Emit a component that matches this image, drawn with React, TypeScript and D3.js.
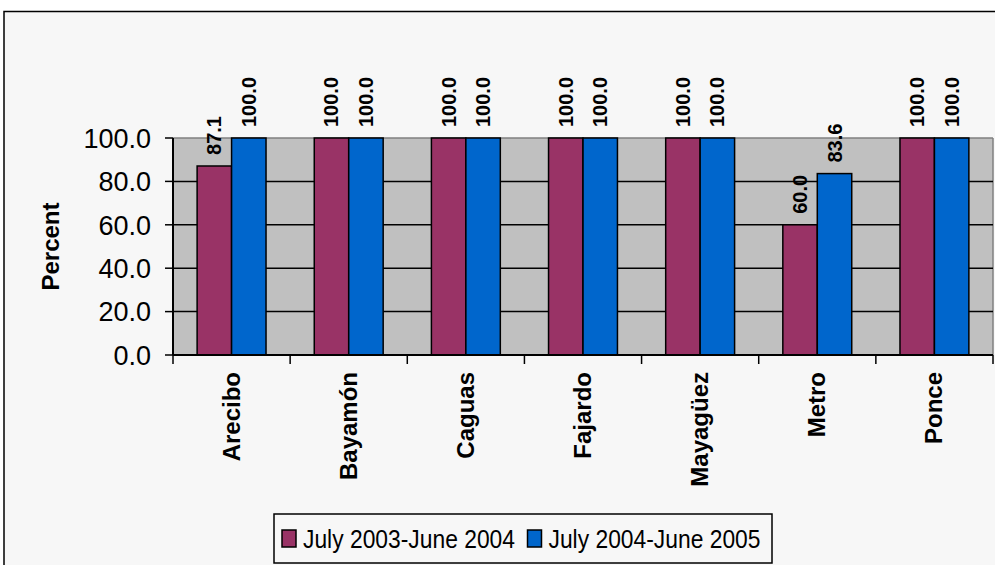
import React from "react";
import * as d3 from "d3";

const regions = ["Arecibo", "Bayamón", "Caguas", "Fajardo", "Mayagüez", "Metro", "Ponce"];
const seriesNames = ["July 2003-June 2004", "July 2004-June 2005"];
const values2003 = [87.1, 100.0, 100.0, 100.0, 100.0, 60.0, 100.0];
const values2004 = [100.0, 100.0, 100.0, 100.0, 100.0, 83.6, 100.0];
const yTicks = [0, 20, 40, 60, 80, 100];

const colors = ["#993366", "#0066cc"];
const font = "'Liberation Sans', Arial, sans-serif";

const W = 995;
const H = 565;
const plot = { left: 173, right: 993, top: 138, bottom: 355 };

export default function App() {
  const x0 = d3.scaleBand().domain(regions).range([plot.left, plot.right]).padding(0);
  const x1 = d3
    .scaleBand()
    .domain(seriesNames)
    .range([0, x0.bandwidth()])
    .paddingInner(0)
    .paddingOuter(0.7);
  const y = d3.scaleLinear().domain([0, 100]).range([plot.bottom, plot.top]);

  const rows = regions.map((r, i) => ({ region: r, vals: [values2003[i], values2004[i]] }));

  return (
    <svg
      width={W}
      height={H}
      style={{ position: "absolute", left: 0, top: 0, background: "#ffffff" }}
      fontFamily={font}
    >
      {/* chart area */}
      <rect x={4} y={11.5} width={W + 10} height={H + 10} fill="#f7f7f7" stroke="#000" strokeWidth={1.5} />

      {/* plot area */}
      <rect x={plot.left} y={plot.top} width={plot.right - plot.left} height={plot.bottom - plot.top} fill="#c0c0c0" />
      <line x1={plot.left} x2={plot.right} y1={plot.top} y2={plot.top} stroke="#808080" strokeWidth={1.5} />
      <line x1={plot.right} x2={plot.right} y1={plot.top} y2={plot.bottom} stroke="#808080" strokeWidth={1.5} />

      {/* gridlines */}
      {yTicks.slice(1, -1).map((t) => (
        <line key={t} x1={plot.left} x2={plot.right} y1={y(t)} y2={y(t)} stroke="#000" strokeWidth={1.5} />
      ))}

      {/* bars */}
      {rows.map((d) => (
        <g key={d.region} transform={`translate(${x0(d.region)},0)`}>
          {d.vals.map((v, j) => (
            <rect
              key={j}
              x={x1(seriesNames[j])}
              y={y(v)}
              width={x1.bandwidth()}
              height={y(0) - y(v)}
              fill={colors[j]}
              stroke="#000"
              strokeWidth={1.5}
            />
          ))}
          {d.vals.map((v, j) => {
            const cx = (x1(seriesNames[j]) as number) + x1.bandwidth() / 2;
            return (
              <text
                key={"l" + j}
                transform={`translate(${cx + 7},${y(v) - 11}) rotate(-90)`}
                fontSize={20}
                fontWeight="bold"
                fill="#000"
              >
                {v.toFixed(1)}
              </text>
            );
          })}
        </g>
      ))}

      {/* y axis */}
      <line x1={plot.left} x2={plot.left} y1={plot.top} y2={plot.bottom} stroke="#000" strokeWidth={2} />
      {yTicks.map((t) => (
        <g key={t}>
          <line x1={plot.left - 8} x2={plot.left} y1={y(t)} y2={y(t)} stroke="#000" strokeWidth={1.5} />
          <text x={151} y={y(t)} dy="0.36em" textAnchor="end" fontSize={27} fill="#000">
            {t.toFixed(1)}
          </text>
        </g>
      ))}
      <text
        transform={`translate(${59},${(plot.top + plot.bottom) / 2}) rotate(-90)`}
        textAnchor="middle"
        fontSize={24}
        fontWeight="bold"
        fill="#000"
      >
        Percent
      </text>

      {/* x axis */}
      <line x1={plot.left} x2={plot.right} y1={plot.bottom} y2={plot.bottom} stroke="#000" strokeWidth={2} />
      {regions.concat([""]).map((r, i) => {
        const xx = i < regions.length ? (x0(r) as number) : plot.right;
        return <line key={"t" + i} x1={xx} x2={xx} y1={plot.bottom} y2={plot.bottom + 9} stroke="#000" strokeWidth={1.5} />;
      })}
      {regions.map((r) => (
        <text
          key={r}
          transform={`translate(${(x0(r) as number) + x0.bandwidth() / 2 + 8},${372}) rotate(-90)`}
          textAnchor="end"
          fontSize={24}
          fontWeight="bold"
          fill="#000"
        >
          {r}
        </text>
      ))}

      {/* legend */}
      <rect x={274} y={514} width={498} height={49} fill="#f7f7f7" stroke="#000" strokeWidth={1.5} />
      {seriesNames.map((s, i) => {
        const lx = i === 0 ? 282 : 527.5;
        return (
          <g key={s}>
            <rect x={lx} y={530} width={14} height={17} fill={colors[i]} stroke="#000" strokeWidth={1.5} />
            <text
              x={lx + 21}
              y={548}
              fontSize={25}
              textLength={212}
              lengthAdjust="spacingAndGlyphs"
              fill="#000"
            >
              {s}
            </text>
          </g>
        );
      })}
    </svg>
  );
}
